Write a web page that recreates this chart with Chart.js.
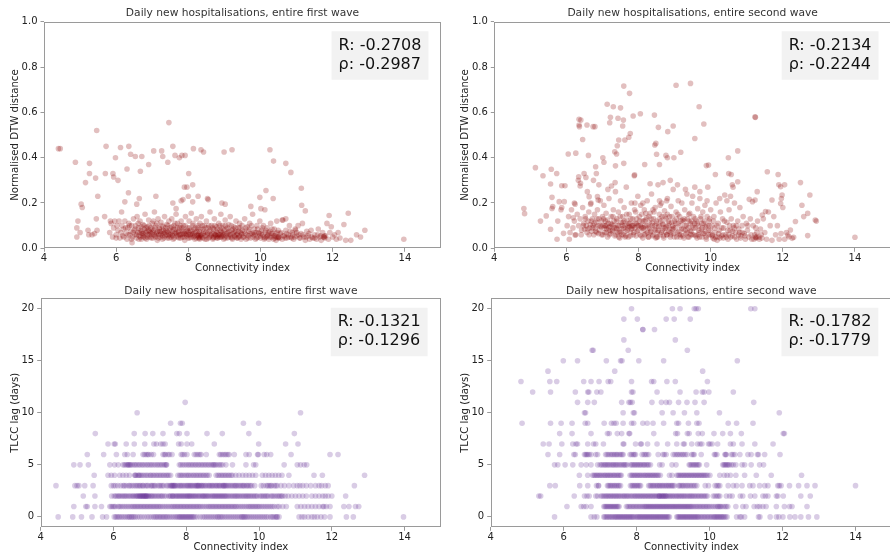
<!DOCTYPE html>
<html>
<head>
<meta charset="utf-8">
<script src="https://cdn.jsdelivr.net/npm/chart.js@4/dist/chart.umd.min.js"></script>
<style>
  html, body { margin: 0; padding: 0; background: #fff; overflow: hidden; width: 890px; height: 555px; }
  canvas { position: absolute; }
</style>
</head>
<body>
<canvas id="dtwFirst" width="445" height="277" style="left:0;top:0"></canvas>
<canvas id="dtwSecond" width="450" height="277" style="left:445px;top:0"></canvas>
<canvas id="lagFirst" width="445" height="278" style="left:0;top:277px"></canvas>
<canvas id="lagSecond" width="451" height="278" style="left:445px;top:277px"></canvas>
<script>
const FONT = "'DejaVu Sans', sans-serif";

const titleFirst = "Daily new hospitalisations, entire first wave";
const titleSecond = "Daily new hospitalisations, entire second wave";
const xLabel = "Connectivity index";
const xTicks = [4, 6, 8, 10, 12, 14];
const dtwTicks = [0, 0.2, 0.4, 0.6, 0.8, 1.0];
const lagTicks = [0, 5, 10, 15, 20];

const statsDtwFirst = ["R: -0.2708", "ρ: -0.2987"];
const statsDtwSecond = ["R: -0.2134", "ρ: -0.2244"];
const statsLagFirst = ["R: -0.1321", "ρ: -0.1296"];
const statsLagSecond = ["R: -0.1782", "ρ: -0.1779"];

// first wave, normalised DTW distance per province: [connectivity, distance]
const dtwFirstWave = [
  [4.40,0.44],[4.45,0.44],[4.87,0.38],[5.26,0.375],[5.26,0.33],[5.15,0.29],[5.43,0.31],[5.46,0.52],[5.49,0.23],
  [5.03,0.195],[5.06,0.18],[5.70,0.33],[5.72,0.45],[5.91,0.33],[5.93,0.315],[5.98,0.40],[6.05,0.30],[6.12,0.445],
  [6.35,0.45],[6.40,0.415],[6.30,0.35],[6.53,0.405],[6.71,0.405],[6.67,0.34],[6.90,0.37],[7.04,0.43],[7.26,0.43],
  [7.29,0.405],[7.46,0.555],[7.43,0.38],[7.57,0.45],[7.63,0.41],[7.75,0.40],[7.82,0.41],[7.91,0.41],[8.14,0.44],
  [8.35,0.435],[8.42,0.425],[8.99,0.425],[9.21,0.435],[8.01,0.33],[7.89,0.27],[7.96,0.27],[8.12,0.28],[8.0,0.23],
  [8.27,0.23],[6.34,0.245],[6.24,0.205],[6.15,0.16],[6.57,0.195],[6.64,0.22],[7.1,0.23],[7.8,0.21],[7.85,0.215],
  [8.12,0.205],[8.53,0.22],[8.55,0.215],[7.57,0.2],[7.66,0.175],[8.93,0.2],[9.02,0.195],[9.98,0.225],[10.26,0.435],
  [10.15,0.255],[10.36,0.385],[10.35,0.22],[10.7,0.375],[10.84,0.335],[11.13,0.265],[11.14,0.19],[11.24,0.165],
  [10.01,0.175],[10.12,0.17],[9.73,0.185],[11.9,0.145],[12.43,0.155],[12.89,0.08],[13.97,0.04],[12.77,0.05],
  [12.66,0.06],[12.5,0.035],[12.36,0.035],[12.31,0.105],
  [4.91,0.05],[4.91,0.09],[4.94,0.12],[5.0,0.07],[5.22,0.08],[5.24,0.06],[5.33,0.06],[5.4,0.065],[5.47,0.08],
  [5.45,0.13],[5.68,0.14],[5.84,0.12],
  [5.82,0.07],[5.86,0.11],[5.9,0.05],[5.93,0.09],[5.96,0.12],[6.0,0.06],[6.02,0.1],[6.05,0.08],[6.08,0.12],
  [6.1,0.045],[6.13,0.07],[6.16,0.1],[6.18,0.055],[6.2,0.085],[6.24,0.12],[6.27,0.065],[6.3,0.04],[6.32,0.09],
  [6.35,0.11],[6.38,0.06],[6.4,0.075],[6.43,0.1],[6.45,0.05],[6.48,0.13],[6.5,0.08],[6.44,0.025],[6.0,0.045],
  [6.52,0.06],[6.54,0.1],[6.56,0.045],[6.58,0.14],[6.6,0.07],[6.62,0.09],[6.64,0.055],[6.66,0.12],[6.68,0.08],
  [6.7,0.04],[6.72,0.065],[6.74,0.105],[6.76,0.05],[6.78,0.085],[6.8,0.15],[6.82,0.07],[6.84,0.04],[6.86,0.095],
  [6.88,0.06],[6.9,0.125],[6.92,0.075],[6.94,0.05],[6.96,0.09],[6.98,0.065],[7.0,0.11],[7.02,0.045],[7.04,0.08],
  [7.06,0.16],[7.08,0.055],[7.1,0.1],[7.12,0.07],[7.14,0.035],[7.16,0.13],[7.18,0.06],[7.2,0.085],[7.22,0.05],
  [7.24,0.115],[7.26,0.075],[7.28,0.04],[7.3,0.095],[7.32,0.065],[7.34,0.14],[7.36,0.055],[7.38,0.08],[7.4,0.105],
  [7.42,0.045],[7.44,0.07],[7.46,0.12],[7.48,0.06],[7.5,0.09],
  [6.65,0.07],[6.75,0.065],[6.85,0.075],[6.95,0.07],[7.05,0.06],[7.15,0.075],[7.25,0.065],[7.35,0.07],[7.45,0.055],
  [7.52,0.05],[7.54,0.13],[7.56,0.075],[7.58,0.04],[7.6,0.1],[7.62,0.065],[7.64,0.085],[7.66,0.15],[7.68,0.055],
  [7.7,0.11],[7.72,0.07],[7.74,0.045],[7.76,0.09],[7.78,0.06],[7.8,0.12],[7.82,0.08],[7.84,0.05],[7.86,0.1],
  [7.88,0.065],[7.9,0.035],[7.92,0.14],[7.94,0.075],[7.96,0.055],[7.98,0.09],[8.0,0.06],[8.02,0.12],[8.04,0.045],
  [8.06,0.08],[8.08,0.155],[8.1,0.065],[8.12,0.1],[8.14,0.05],[8.16,0.085],[8.18,0.04],[8.2,0.07],[8.22,0.13],
  [8.24,0.055],[8.26,0.09],[8.28,0.045],[8.3,0.075],[8.32,0.11],[8.34,0.06],[8.36,0.14],[8.38,0.05],[8.4,0.085],
  [8.42,0.065],[8.44,0.1],[8.46,0.04],[8.48,0.07],
  [8.28,0.055],[8.3,0.05],[8.32,0.045],[8.26,0.06],[8.34,0.055],[8.05,0.06],[8.15,0.065],[7.85,0.06],[7.95,0.065],
  [7.75,0.06],[7.65,0.07],[7.55,0.06],
  [8.5,0.12],[8.52,0.06],[8.54,0.09],[8.56,0.045],[8.58,0.075],[8.6,0.16],[8.62,0.055],[8.64,0.1],[8.66,0.065],
  [8.68,0.04],[8.7,0.085],[8.72,0.13],[8.74,0.06],[8.76,0.05],[8.78,0.095],[8.8,0.07],[8.82,0.045],[8.84,0.11],
  [8.86,0.06],[8.88,0.08],[8.9,0.15],[8.92,0.05],[8.94,0.07],[8.96,0.1],[8.98,0.04],[9.0,0.065],[9.02,0.125],
  [9.04,0.055],[9.06,0.085],[9.08,0.045],[9.1,0.07],[9.12,0.105],[9.14,0.06],[9.16,0.14],[9.18,0.05],[9.2,0.08],
  [9.22,0.04],[9.24,0.065],[9.26,0.095],[9.28,0.055],[9.3,0.075],[9.32,0.12],[9.34,0.045],[9.36,0.065],[9.38,0.09],
  [9.4,0.05],[9.42,0.11],[9.44,0.07],[9.46,0.04],[9.48,0.06],
  [8.8,0.055],[8.85,0.05],[8.9,0.06],[8.75,0.06],[8.95,0.055],[8.7,0.05],
  [9.5,0.08],[9.53,0.05],[9.56,0.13],[9.58,0.065],[9.6,0.04],[9.63,0.095],[9.66,0.055],[9.68,0.075],[9.7,0.11],
  [9.73,0.045],[9.76,0.065],[9.78,0.15],[9.8,0.06],[9.83,0.085],[9.86,0.04],[9.88,0.07],[9.9,0.1],[9.93,0.05],
  [9.96,0.065],[9.98,0.12],[10.0,0.045],[10.03,0.08],[10.06,0.06],[10.08,0.1],[10.1,0.04],[10.13,0.07],[10.16,0.05],
  [10.18,0.09],[10.2,0.06],[10.23,0.04],[10.26,0.075],[10.28,0.11],[10.3,0.05],[10.33,0.065],[10.36,0.04],
  [10.38,0.085],[10.4,0.055],[10.43,0.035],[10.46,0.07],[10.48,0.045],
  [10.45,0.12],[10.6,0.125],[10.7,0.13],[10.97,0.08],[10.5,0.05],
  [10.5,0.05],[10.55,0.065],[10.6,0.04],[10.62,0.125],[10.66,0.055],[10.7,0.08],[10.73,0.045],[10.77,0.06],
  [10.8,0.1],[10.84,0.05],[10.88,0.07],[10.92,0.04],[10.96,0.085],[11.0,0.055],[11.04,0.1],[11.08,0.045],
  [11.12,0.065],[11.16,0.11],[11.2,0.05],[11.24,0.035],[11.28,0.075],[11.32,0.055],[11.36,0.04],[11.4,0.08],
  [11.45,0.045],
  [11.5,0.06],[11.55,0.04],[11.6,0.085],[11.64,0.05],[11.68,0.035],[11.72,0.07],[11.76,0.05],[11.78,0.045],
  [11.8,0.055],[11.84,0.11],[11.88,0.04],[11.92,0.07],[11.96,0.095],[12.0,0.05],[12.05,0.06],[12.1,0.04],
  [12.15,0.07],[12.2,0.045],[11.75,0.05],[11.77,0.055],
  [6.21,0.05],[6.26,0.09],[6.33,0.06],[6.37,0.1],[6.42,0.04],[6.47,0.07],[6.53,0.085],[6.57,0.06],[6.61,0.11],
  [6.63,0.04],[6.67,0.05],[6.69,0.095],[6.71,0.075],[6.73,0.055],[6.77,0.1],[6.79,0.06],[6.81,0.045],[6.83,0.09],
  [6.87,0.05],[6.89,0.08],[6.91,0.1],[6.93,0.06],[6.97,0.045],[6.99,0.085],[7.01,0.07],[7.03,0.12],[7.07,0.09],
  [7.09,0.05],[7.11,0.065],[7.13,0.11],[7.17,0.045],[7.19,0.09],[7.21,0.075],[7.23,0.06],[7.27,0.1],[7.29,0.055],
  [7.31,0.08],[7.33,0.045],[7.37,0.09],[7.39,0.06],[7.41,0.075],[7.43,0.1],[7.47,0.045],[7.49,0.08],[7.51,0.065],
  [7.53,0.095],[7.57,0.055],[7.59,0.085],[7.61,0.045],[7.63,0.11],[7.67,0.065],[7.69,0.09],[7.71,0.05],[7.73,0.075],
  [7.77,0.1],[7.79,0.045],[7.81,0.065],[7.83,0.09],[7.87,0.075],[7.89,0.05],[7.91,0.1],[7.93,0.06],[7.97,0.08],
  [7.99,0.045],[8.01,0.07],[8.03,0.09],[8.07,0.05],[8.09,0.075],[8.11,0.06],[8.13,0.11],[8.17,0.055],[8.19,0.09],
  [8.21,0.045],[8.23,0.075],[8.27,0.1],[8.29,0.065],[8.31,0.04],[8.33,0.085],[8.37,0.06],[8.39,0.1],[8.41,0.045],
  [8.43,0.075],[8.47,0.055],[8.49,0.09],[8.51,0.04],[8.53,0.065],[8.57,0.1],[8.59,0.05],[8.61,0.08],[8.63,0.06],
  [8.67,0.09],[8.69,0.045],[8.71,0.065],[8.73,0.1],[8.77,0.075],[8.79,0.045],[8.81,0.085],[8.83,0.06],[8.87,0.1],
  [8.89,0.05],[8.91,0.075],[8.93,0.09],[8.97,0.06],[8.99,0.08],[9.01,0.045],[9.03,0.1],[9.07,0.065],[9.09,0.09],
  [9.11,0.05],[9.13,0.075],[9.17,0.06],[9.19,0.1],[9.21,0.045],[9.23,0.085],[9.27,0.07],[9.29,0.05],[9.31,0.09],
  [9.33,0.06],[9.37,0.045],[9.39,0.075],[9.41,0.055],[9.43,0.09],[9.47,0.065],[9.49,0.1],[9.51,0.05],[9.55,0.075],
  [9.59,0.09],[9.62,0.06],[9.65,0.045],[9.69,0.085],[9.72,0.065],[9.75,0.1],[9.79,0.05],[9.82,0.07],[9.85,0.06],
  [9.89,0.045],[9.92,0.085],[9.95,0.07],[9.99,0.055],[10.02,0.065],[10.05,0.09],[10.09,0.05],[10.12,0.045],
  [10.15,0.08],[10.19,0.055],[10.22,0.07],[10.25,0.05],[10.29,0.065],[10.32,0.085],[10.35,0.055],[10.39,0.045],
  [10.42,0.065],[10.45,0.05],[10.49,0.08],[10.53,0.045],[10.57,0.07],[10.63,0.055],[10.68,0.045],[10.72,0.065],
  [10.78,0.05],[10.82,0.075],[10.86,0.045],[10.9,0.06],[10.95,0.05],[11.0,0.07],[11.06,0.06],[11.1,0.045],
  [11.18,0.06],[11.26,0.05],[11.34,0.065],[11.42,0.05],[11.5,0.045],[11.58,0.06],[11.66,0.055]
];

// second wave, normalised DTW distance per province: [connectivity, distance]
const dtwSecondWave = [
  [4.82,0.176],[4.84,0.153],[5.14,0.356],[5.28,0.12],[5.35,0.32],[5.44,0.143],[5.56,0.084],[5.56,0.284],
  [5.58,0.349],[5.6,0.225],[5.62,0.184],[5.6,0.176],[5.73,0.33],[5.74,0.04],[5.76,0.12],[5.8,0.206],[5.85,0.17],
  [5.87,0.18],[5.87,0.276],[5.96,0.276],[5.94,0.206],[5.92,0.066],[6.05,0.416],[6.08,0.04],[6.19,0.135],
  [6.24,0.059],[6.26,0.42],[6.22,0.2],[6.24,0.195],[6.33,0.3],[6.34,0.316],[6.38,0.275],[6.39,0.287],[6.35,0.544],
  [6.4,0.566],[6.36,0.537],[6.35,0.57],[6.45,0.48],[6.57,0.544],[6.61,0.41],[6.74,0.537],[6.79,0.537],[6.49,0.33],
  [6.54,0.313],[6.58,0.25],[6.63,0.228],[6.67,0.195],[6.75,0.3],[6.81,0.36],[6.83,0.33],[6.86,0.228],[6.88,0.213],
  [6.9,0.28],[7.01,0.4],[7.04,0.38],[7.13,0.636],[7.22,0.578],[7.2,0.554],[7.3,0.625],[7.34,0.426],[7.36,0.364],
  [7.41,0.453],[7.39,0.416],[7.43,0.574],[7.45,0.478],[7.5,0.62],[7.56,0.54],[7.58,0.566],[7.59,0.716],[7.59,0.375],
  [7.62,0.478],[7.73,0.49],[7.75,0.684],[7.77,0.507],[7.85,0.584],[7.89,0.324],[8.05,0.594],[8.17,0.37],[8.44,0.588],
  [8.45,0.456],[8.48,0.463],[8.5,0.415],[8.55,0.534],[8.58,0.37],[8.76,0.41],[8.8,0.4],[8.81,0.515],[8.98,0.4],
  [8.96,0.54],[9.04,0.72],[9.17,0.424],[9.44,0.728],[9.56,0.485],[9.68,0.625],[9.81,0.549],[9.88,0.365],
  [9.94,0.368],[10.13,0.326],[10.49,0.4],[10.5,0.33],[10.57,0.326],[10.75,0.43],[11.23,0.58],[11.24,0.578],
  [10.6,0.28],[10.75,0.294],[11.57,0.338],[11.87,0.326],[11.89,0.28],[11.94,0.272],[12.05,0.28],[12.49,0.29],
  [12.75,0.235],[12.53,0.19],[12.69,0.154],[12.58,0.14],[12.69,0.056],[12.9,0.125],[12.93,0.12],[12.35,0.118],
  [14.0,0.049],[12.21,0.081],[12.26,0.044],[12.3,0.049],[12.14,0.059],[12.17,0.051],[11.96,0.22],[11.98,0.235],
  [11.94,0.198],[11.7,0.213],[11.43,0.147],[11.52,0.162],[11.29,0.25],[11.23,0.213],[11.16,0.206],[11.07,0.216],
  [6.02,0.1],[6.06,0.14],[6.1,0.07],[6.14,0.17],[6.18,0.09],[6.22,0.12],[6.26,0.06],[6.3,0.15],[6.34,0.1],
  [6.38,0.13],[6.42,0.08],[6.45,0.18],[6.48,0.11],[6.5,0.085],[6.52,0.14],[6.55,0.1],[6.57,0.07],[6.6,0.12],
  [6.62,0.16],[6.64,0.09],[6.66,0.105],[6.68,0.2],[6.7,0.075],[6.72,0.13],[6.74,0.1],[6.76,0.06],[6.78,0.15],
  [6.8,0.09],[6.82,0.115],[6.84,0.07],[6.86,0.17],[6.88,0.1],[6.9,0.13],[6.92,0.08],[6.94,0.21],[6.96,0.095],
  [6.98,0.06],[7.0,0.14],
  [7.02,0.1],[7.04,0.19],[7.06,0.07],[7.08,0.12],[7.1,0.155],[7.12,0.085],[7.14,0.05],[7.16,0.11],[7.18,0.22],
  [7.2,0.095],[7.22,0.065],[7.24,0.14],[7.26,0.105],[7.28,0.08],[7.3,0.17],[7.32,0.12],[7.34,0.055],[7.36,0.25],
  [7.38,0.09],[7.4,0.13],[7.42,0.07],[7.44,0.16],[7.46,0.1],[7.48,0.045],[7.5,0.21],[7.52,0.115],[7.54,0.085],
  [7.56,0.14],[7.58,0.06],[7.6,0.18],[7.62,0.1],[7.64,0.075],[7.66,0.27],[7.68,0.125],[7.7,0.09],[7.72,0.05],
  [7.74,0.15],[7.76,0.11],[7.78,0.07],[7.8,0.2],[7.82,0.1],[7.84,0.13],[7.86,0.06],[7.88,0.32],[7.9,0.09],
  [7.92,0.16],[7.94,0.11],[7.96,0.075],[7.98,0.23],[8.0,0.1],
  [7.1,0.1],[7.2,0.08],[7.3,0.1],[7.4,0.085],[7.5,0.07],[7.6,0.12],[7.7,0.1],[7.8,0.085],[7.9,0.11],[7.45,0.05],
  [7.55,0.1],[7.65,0.055],[7.75,0.095],[7.85,0.1],[7.95,0.13],[7.25,0.275],[7.15,0.26],[7.35,0.29],[7.05,0.09],
  [7.9,0.2],
  [8.02,0.14],[8.04,0.06],[8.06,0.19],[8.08,0.095],[8.1,0.12],[8.12,0.045],[8.14,0.08],[8.16,0.17],[8.18,0.1],
  [8.2,0.065],[8.22,0.135],[8.24,0.21],[8.26,0.09],[8.28,0.05],[8.3,0.115],[8.32,0.155],[8.34,0.075],[8.36,0.24],
  [8.38,0.1],[8.4,0.06],[8.42,0.13],[8.44,0.085],[8.46,0.18],[8.48,0.045],[8.5,0.11],[8.52,0.07],[8.54,0.28],
  [8.56,0.095],[8.58,0.15],[8.6,0.06],[8.62,0.12],[8.64,0.2],[8.66,0.08],[8.68,0.105],[8.7,0.045],[8.72,0.165],
  [8.74,0.09],[8.76,0.13],[8.78,0.06],[8.8,0.22],[8.82,0.1],[8.84,0.075],[8.86,0.14],[8.88,0.05],[8.9,0.185],
  [8.92,0.115],[8.94,0.085],[8.96,0.26],[8.98,0.065],[9.0,0.12],
  [8.05,0.1],[8.15,0.12],[8.25,0.07],[8.35,0.13],[8.45,0.1],[8.55,0.08],[8.65,0.14],[8.75,0.07],[8.85,0.11],
  [8.95,0.1],[8.1,0.09],[8.3,0.09],[8.5,0.05],[8.7,0.09],[8.9,0.07],[8.2,0.155],[8.4,0.17],[8.6,0.19],[8.8,0.15],
  [8.58,0.21],[8.78,0.21],[8.12,0.2],[8.32,0.285],[8.68,0.29],[8.88,0.3],
  [9.02,0.09],[9.04,0.16],[9.06,0.05],[9.08,0.28],[9.1,0.11],[9.12,0.075],[9.14,0.14],[9.16,0.1],[9.18,0.06],
  [9.2,0.2],[9.22,0.125],[9.24,0.085],[9.26,0.045],[9.28,0.17],[9.3,0.1],[9.32,0.065],[9.34,0.24],[9.36,0.13],
  [9.38,0.09],[9.4,0.05],[9.42,0.155],[9.44,0.11],[9.46,0.075],[9.48,0.2],[9.5,0.1],[9.52,0.14],[9.54,0.06],
  [9.56,0.27],[9.58,0.09],[9.6,0.12],[9.62,0.045],[9.64,0.175],[9.66,0.1],[9.68,0.07],[9.7,0.22],[9.72,0.13],
  [9.74,0.085],[9.76,0.05],[9.78,0.16],[9.8,0.11],[9.82,0.065],[9.84,0.19],[9.86,0.095],[9.88,0.04],[9.9,0.14],
  [9.92,0.27],[9.94,0.08],[9.96,0.12],[9.98,0.06],[10.0,0.17],
  [9.05,0.13],[9.15,0.05],[9.25,0.12],[9.35,0.07],[9.45,0.06],[9.55,0.11],[9.65,0.06],[9.75,0.11],[9.85,0.075],
  [9.95,0.1],[9.1,0.21],[9.3,0.26],[9.5,0.23],[9.7,0.25],[9.9,0.21],[9.4,0.12],
  [10.03,0.1],[10.06,0.045],[10.09,0.14],[10.12,0.07],[10.15,0.2],[10.18,0.035],[10.21,0.11],[10.24,0.08],
  [10.27,0.16],[10.3,0.055],[10.33,0.13],[10.36,0.09],[10.39,0.235],[10.42,0.06],[10.45,0.115],[10.48,0.04],
  [10.51,0.17],[10.54,0.08],[10.57,0.13],[10.6,0.055],[10.63,0.1],[10.66,0.2],[10.69,0.07],[10.72,0.04],
  [10.75,0.12],[10.78,0.085],[10.81,0.18],[10.84,0.055],[10.87,0.1],[10.9,0.14],[10.93,0.065],[10.96,0.04],
  [10.99,0.11],[10.1,0.04],[10.05,0.06],[10.2,0.05],[10.35,0.045],[10.5,0.06],[10.65,0.09],[10.8,0.07],
  [10.25,0.22],[10.45,0.21],[10.62,0.27],[10.55,0.23],
  [11.02,0.08],[11.06,0.05],[11.1,0.13],[11.14,0.04],[11.18,0.1],[11.22,0.06],[11.26,0.045],[11.3,0.12],
  [11.34,0.05],[11.38,0.085],[11.42,0.045],[11.46,0.13],[11.5,0.07],[11.55,0.04],[11.6,0.16],[11.65,0.1],
  [11.7,0.035],[11.75,0.14],[11.8,0.06],[11.85,0.1],[11.9,0.04],[11.95,0.065],[12.0,0.18],[12.05,0.04],
  [12.1,0.07],[11.25,0.09],[11.35,0.04],[11.24,0.05],[11.27,0.05],
  [6.41,0.06],[6.47,0.1],[6.53,0.13],[6.59,0.085],[6.63,0.06],[6.69,0.12],[6.73,0.09],[6.77,0.11],[6.81,0.075],
  [6.85,0.13],[6.89,0.065],[6.93,0.1],[6.97,0.12],[7.01,0.06],[7.03,0.13],[7.07,0.1],[7.11,0.07],[7.13,0.125],
  [7.17,0.09],[7.19,0.06],[7.23,0.11],[7.27,0.075],[7.29,0.14],[7.33,0.09],[7.37,0.06],[7.39,0.12],[7.43,0.1],
  [7.47,0.075],[7.49,0.14],[7.53,0.06],[7.57,0.115],[7.59,0.09],[7.63,0.05],[7.67,0.15],[7.69,0.08],[7.73,0.11],
  [7.77,0.055],[7.79,0.13],[7.83,0.09],[7.87,0.07],[7.89,0.17],[7.93,0.055],[7.97,0.1],[7.99,0.08],[8.03,0.12],
  [8.07,0.055],[8.09,0.15],[8.13,0.09],[8.17,0.06],[8.19,0.125],[8.23,0.1],[8.27,0.05],[8.29,0.14],[8.33,0.07],
  [8.37,0.11],[8.39,0.055],[8.43,0.16],[8.47,0.08],[8.49,0.12],[8.53,0.05],[8.57,0.1],[8.59,0.13],[8.63,0.07],
  [8.67,0.11],[8.69,0.055],[8.73,0.14],[8.77,0.095],[8.79,0.06],[8.83,0.12],[8.87,0.085],[8.89,0.06],[8.93,0.14],
  [8.97,0.09],[8.99,0.05],[9.03,0.11],[9.07,0.07],[9.09,0.15],[9.13,0.06],[9.17,0.12],[9.19,0.085],[9.23,0.055],
  [9.27,0.13],[9.29,0.08],[9.33,0.1],[9.37,0.05],[9.39,0.15],[9.43,0.08],[9.47,0.12],[9.49,0.06],[9.53,0.09],
  [9.57,0.13],[9.59,0.055],[9.63,0.11],[9.67,0.08],[9.69,0.05],[9.73,0.14],[9.77,0.09],[9.79,0.065],[9.83,0.12],
  [9.87,0.05],[9.89,0.1],[9.93,0.06],[9.97,0.13],[9.99,0.08],[10.04,0.055],[10.08,0.12],[10.11,0.09],[10.14,0.05],
  [10.17,0.1],[10.22,0.065],[10.26,0.045],[10.31,0.09],[10.34,0.06],[10.38,0.12],[10.43,0.05],[10.47,0.08],
  [10.52,0.1],[10.56,0.05],[10.61,0.075],[10.67,0.05],[10.71,0.1],[10.77,0.06],[10.83,0.045],[10.88,0.07],
  [10.95,0.055],[11.03,0.1],[11.12,0.06],[11.2,0.04],[11.28,0.07],[11.4,0.06]
];

// first wave, TLCC lag in days: [lag, connectivity values]
const lagFirstWave = [
  [11, [7.97]],
  [10, [6.65, 11.14]],
  [9, [7.57, 7.84, 7.89, 9.57, 9.99]],
  [8, [5.5, 6.57, 6.87, 7.08, 7.36, 7.74, 7.81, 8.02, 8.57, 8.99, 9.72, 10.97]],
  [7, [5.85, 6.02, 6.05, 6.35, 6.57, 6.86, 7.11, 7.18, 7.30, 7.36, 7.42, 7.79, 7.86, 8.02, 8.15, 8.77, 9.99, 10.73, 11.07]],
  [6, [5.28, 5.73, 6.08, 6.31, 6.38, 6.54, 6.81, 6.90, 6.97, 7.04, 7.10, 7.36, 7.43, 7.54, 7.61, 7.86, 7.95, 8.02,
       8.22, 8.32, 8.41, 8.55, 8.91, 9.0, 9.09, 9.18, 9.32, 9.64, 9.73, 9.96, 9.98, 10.14, 10.21, 10.32, 10.88, 11.95, 12.17,
       6.85, 6.94, 7.4, 7.5, 7.9, 8.27, 8.37, 8.95, 9.05, 9.14]],
  [5, [4.91, 5.08, 5.31, 5.9, 6.03, 6.13, 6.26, 6.34, 6.42, 6.51, 6.6, 6.69, 6.78, 6.87, 6.96, 7.05, 7.15, 7.24, 7.33,
       7.42, 7.81, 7.9, 8.0, 8.09, 8.18, 8.27, 8.36, 8.45, 8.54, 8.63, 8.72, 8.81, 8.91, 9.0, 9.09, 9.27, 9.64, 9.85,
       9.91, 10.69, 11.05, 11.14, 11.24, 11.31, 6.4, 6.45, 7.45, 8.75, 8.78, 7.46, 7.38,
       6.3, 6.38, 6.47, 6.56, 6.64, 6.73, 6.82, 6.92, 7.01, 7.1, 7.2, 7.29, 7.85, 7.95, 8.05, 8.14, 8.23, 8.32, 8.41,
       8.5, 8.59, 8.68, 8.86, 8.95]],
  [4, [5.47, 5.85, 5.94, 6.03, 6.17, 6.26, 6.35, 6.44, 6.58, 6.62, 6.67, 6.72, 6.76, 6.85, 6.94, 7.03, 7.12, 7.21,
       7.30, 7.39, 7.48, 7.52, 7.57, 7.77, 7.86, 7.95, 8.0, 8.04, 8.13, 8.18, 8.22, 8.31, 8.4, 8.49, 8.58, 8.63, 8.82,
       8.91, 9.0, 9.09, 9.18, 9.27, 9.36, 9.45, 9.55, 9.64, 9.73, 9.82, 9.91, 10.09, 10.18, 10.27, 10.36, 10.45, 10.54,
       10.63, 10.82, 11.51, 11.74, 12.9,
       6.6, 6.7, 6.8, 6.9, 7.0, 7.08, 7.17, 7.26, 7.35, 7.44, 7.82, 7.9, 8.08, 8.27, 8.36, 8.45, 8.54, 8.87, 8.96, 9.05,
       9.14, 9.23]],
  [3, [4.42, 4.94, 5.0, 5.05, 5.21, 5.44, 5.94, 6.0, 6.05, 6.12, 6.2, 6.27, 6.35, 6.42, 6.5, 6.6, 6.68, 6.75, 6.82,
       6.88, 6.95, 7.02, 7.08, 7.15, 7.22, 7.3, 7.38, 7.46, 7.55, 7.6, 7.64, 7.7, 7.78, 7.85, 7.92, 8.0, 8.06, 8.12,
       8.18, 8.25, 8.3, 8.36, 8.42, 8.48, 8.55, 8.6, 8.66, 8.72, 8.8, 8.86, 8.92, 9.0, 9.06, 9.12, 9.2, 9.28, 9.35,
       9.42, 9.5, 9.57, 9.65, 9.72, 9.8, 9.88, 10.06, 10.12, 10.2, 10.28, 10.35, 10.42, 10.5, 10.6, 10.7, 10.82,
       10.95, 11.05, 11.12, 11.2, 11.3, 11.42, 11.55, 11.65, 11.72, 11.82, 11.9, 12.62, 7.62, 7.66, 8.28, 8.32, 8.4,
       8.9, 9.02,
       6.3, 6.45, 6.55, 6.64, 6.72, 6.8, 6.92, 7.05, 7.12, 7.26, 7.34, 7.5, 7.58, 7.68, 7.74, 7.82, 7.88, 7.96, 8.03,
       8.09, 8.15, 8.22, 8.34, 8.45, 8.52, 8.63, 8.7, 8.76, 8.83, 8.96, 9.04, 9.09, 9.16, 9.24, 9.32, 9.38, 9.46, 9.54,
       9.6, 9.68, 9.76, 10.24, 10.32, 10.46]],
  [2, [5.17, 5.49, 5.95, 6.02, 6.1, 6.17, 6.25, 6.32, 6.4, 6.48, 6.55, 6.62, 6.67, 6.72, 6.78, 6.83, 6.88, 6.93, 6.98,
       7.05, 7.12, 7.2, 7.28, 7.35, 7.45, 7.52, 7.58, 7.63, 7.7, 7.76, 7.82, 7.88, 7.94, 8.0, 8.05, 8.1, 8.16, 8.22,
       8.28, 8.35, 8.42, 8.5, 8.56, 8.62, 8.7, 8.76, 8.82, 8.88, 8.94, 9.0, 9.06, 9.12, 9.2, 9.28, 9.35, 9.42, 9.5,
       9.58, 9.65, 9.72, 9.8, 9.88, 9.95, 10.02, 10.1, 10.18, 10.25, 10.32, 10.4, 10.5, 10.58, 10.65, 10.72, 10.8,
       10.9, 11.0, 11.1, 11.2, 11.3, 11.45, 11.55, 11.65, 11.75, 11.82, 11.9, 12.0, 12.38, 6.7, 6.75, 6.8, 6.85, 6.9,
       7.62, 8.45,
       6.06, 6.14, 6.21, 6.29, 6.36, 6.44, 6.52, 6.59, 6.65, 6.74, 6.81, 6.87, 6.91, 6.96, 7.02, 7.08, 7.16, 7.24, 7.32,
       7.4, 7.55, 7.66, 7.73, 7.79, 7.85, 7.91, 7.97, 8.03, 8.08, 8.13, 8.19, 8.25, 8.32, 8.38, 8.47, 8.53, 8.59, 8.66,
       8.73, 8.79, 8.85, 8.91, 8.97, 9.03, 9.09, 9.16, 9.24, 9.32, 9.39, 9.46, 9.54, 9.62, 9.69, 9.76, 9.84, 9.92,
       10.06, 10.14, 10.22, 10.36, 10.45, 10.54, 10.62]],
  [1, [4.91, 5.24, 5.28, 5.49, 5.67, 5.9, 5.98, 6.05, 6.12, 6.2, 6.3, 6.4, 6.5, 6.58, 6.66, 6.74, 6.82, 6.9, 6.98,
       7.06, 7.14, 7.22, 7.3, 7.4, 7.5, 7.6, 7.68, 7.76, 7.84, 7.92, 8.0, 8.08, 8.16, 8.24, 8.32, 8.4, 8.5, 8.6, 8.68,
       8.76, 8.84, 8.92, 9.0, 9.08, 9.16, 9.24, 9.32, 9.4, 9.5, 9.6, 9.7, 9.78, 9.86, 9.94, 10.02, 10.12, 10.22, 10.32,
       10.42, 10.55, 10.65, 10.75, 11.05, 11.15, 11.25, 11.35, 11.45, 11.55, 11.65, 11.75, 11.78, 11.85, 11.95, 12.33,
       12.47, 12.65, 12.74,
       5.94, 6.02, 6.16, 6.25, 6.35, 6.45, 6.54, 6.62, 6.7, 6.78, 6.86, 6.94, 7.02, 7.1, 7.18, 7.26, 7.35, 7.45, 7.55,
       7.64, 7.72, 7.8, 7.88, 7.96, 8.04, 8.12, 8.2, 8.28, 8.36, 8.45, 8.55, 8.64, 8.72, 8.8, 8.88, 8.96, 9.04, 9.12,
       9.2, 9.28, 9.36, 9.45, 9.55, 9.65, 9.74, 9.82, 9.9, 9.98, 10.07, 10.17, 10.27, 10.37, 10.5]],
  [0, [4.48, 4.88, 5.12, 5.41, 5.7, 5.81, 6.02, 6.1, 6.18, 6.28, 6.38, 6.45, 6.52, 6.6, 6.72, 6.85, 6.98, 7.1, 7.18,
       7.26, 7.34, 7.42, 7.5, 7.6, 7.7, 7.78, 7.84, 7.9, 7.96, 8.02, 8.08, 8.14, 8.2, 8.3, 8.45, 8.55, 8.65, 8.75,
       8.85, 8.92, 9.0, 9.1, 9.2, 9.3, 9.4, 9.5, 9.56, 9.62, 9.7, 9.8, 9.9, 10.0, 10.05, 10.15, 10.25, 10.32, 10.4,
       10.45, 10.5, 10.55, 11.1, 11.18, 11.25, 11.35, 11.45, 11.52, 11.6, 11.7, 11.8, 11.95, 12.4, 12.59, 13.97,
       6.06, 6.14, 6.23, 6.33, 6.42, 6.49, 6.56, 6.66, 6.78, 6.92, 7.04, 7.14, 7.22, 7.3, 7.38, 7.46, 7.55, 7.65, 7.74,
       7.81, 7.87, 7.93, 7.99, 8.05, 8.11, 8.17, 8.24, 8.38, 8.5, 8.6, 8.7, 8.8, 8.88, 8.96, 9.05, 9.15, 9.25, 9.35,
       9.45, 9.53, 9.59, 9.66, 9.75, 9.85, 9.95, 10.1, 10.2, 10.36, 10.48]]
];

// second wave, TLCC lag in days: [lag, connectivity values]
const lagSecondWave = [
  [20, [7.86, 8.98, 9.19, 9.58, 9.63, 9.69, 11.13, 11.24]],
  [19, [7.65, 8.02, 8.81, 9.03, 9.47]],
  [18, [8.17, 8.17, 8.49]],
  [17, [7.65, 9.06]],
  [16, [6.78, 6.81, 7.77, 9.39]],
  [15, [5.99, 6.38, 7.17, 7.56, 7.6, 8.06, 8.74, 10.76]],
  [14, [5.57, 7.4, 9.81]],
  [13, [4.83, 5.62, 5.81, 6.55, 6.75, 6.97, 7.22, 7.29, 7.86, 8.41, 8.47, 8.83, 9.06, 9.94]],
  [12, [5.15, 5.64, 6.32, 6.66, 6.69, 6.91, 7.02, 7.86, 7.9, 8.56, 9.19, 9.63, 9.8, 9.85, 9.98, 10.65]],
  [11, [6.38, 6.66, 6.84, 7.59, 7.79, 7.83, 7.88, 8.42, 8.68, 8.81, 8.9, 9.15, 9.38, 9.6, 9.85, 11.21]],
  [10, [6.57, 6.6, 7.63, 7.91, 7.94, 8.7, 9.0, 9.31, 9.65, 10.27, 11.91]],
  [9, [4.86, 5.64, 5.93, 6.23, 6.59, 6.66, 7.11, 7.31, 7.38, 7.44, 7.63, 7.86, 7.92, 8.17, 8.29, 8.45, 8.74, 9.1,
       9.15, 9.42, 9.65, 9.71, 10.51, 10.74, 11.19]],
  [8, [5.89, 6.23, 6.75, 7.2, 7.25, 7.47, 7.59, 7.79, 7.81, 8.47, 9.07, 9.12, 9.39, 9.44, 9.69, 9.8, 10.12, 10.36,
       10.57, 10.87, 12.02, 12.05]],
  [7, [5.44, 5.6, 5.95, 6.25, 6.34, 6.38, 6.66, 6.82, 6.88, 7.09, 7.63, 7.65, 7.97, 8.11, 8.13, 8.3, 8.56, 8.85, 9.1,
       9.28, 9.31, 9.51, 9.67, 9.74, 9.79, 9.97, 10.01, 10.07, 10.22, 10.57, 10.65, 10.89, 11.24, 11.74]],
  [6, [5.57, 5.89, 6.28, 6.32, 6.57, 6.63, 6.7, 6.75, 6.88, 6.93, 7.15, 7.23, 7.32, 7.4, 7.47, 7.56, 7.63, 7.82, 7.91,
       7.97, 8.15, 8.24, 8.33, 8.59, 8.76, 8.81, 9.0, 9.1, 9.19, 9.28, 9.38, 9.51, 9.58, 9.77, 10.13, 10.2, 10.42,
       10.46, 10.6, 10.69, 10.83, 11.05, 11.14, 11.31, 11.34, 11.51, 11.93,
       6.6, 6.66, 7.19, 7.28, 7.36, 7.44, 7.52, 7.6, 7.86, 7.94, 8.2, 8.28, 8.72, 9.05, 9.14, 9.24, 9.33, 9.55, 10.16,
       10.44, 10.64]],
  [5, [5.75, 5.84, 6.04, 6.25, 6.48, 6.62, 6.75, 6.93, 7.0, 7.08, 7.15, 7.22, 7.3, 7.37, 7.44, 7.52, 7.6, 7.67, 7.74,
       7.83, 7.9, 7.97, 8.04, 8.11, 8.19, 8.26, 8.33, 8.38, 8.63, 8.7, 8.97, 9.08, 9.44, 9.51, 9.58, 9.65, 9.72, 9.92,
       10.36, 10.42, 10.48, 10.54, 10.65, 10.72, 10.89, 10.96, 11.14, 11.37, 11.48,
       7.04, 7.12, 7.19, 7.26, 7.34, 7.41, 7.48, 7.56, 7.64, 7.7, 7.87, 7.94, 8.01, 8.08, 8.15, 8.22, 8.3, 9.47, 9.55,
       9.62, 9.69, 10.39, 10.45, 10.51, 10.6]],
  [4, [6.43, 6.66, 6.79, 6.86, 6.93, 7.0, 7.08, 7.15, 7.22, 7.29, 7.37, 7.44, 7.51, 7.58, 7.82, 7.89, 7.96, 8.03, 8.1,
       8.18, 8.25, 8.32, 8.39, 8.46, 8.53, 8.6, 8.65, 8.9, 8.97, 9.1, 9.17, 9.24, 9.31, 9.38, 9.45, 9.52, 9.59, 9.66,
       9.73, 9.8, 9.87, 9.95, 10.01, 10.28, 10.4, 10.48, 10.57, 10.72, 10.96, 11.28, 11.69, 12.52,
       6.83, 6.9, 6.97, 7.04, 7.12, 7.19, 7.26, 7.33, 7.4, 7.48, 7.55, 7.86, 7.93, 8.0, 8.07, 8.14, 8.22, 8.29, 8.36,
       8.43, 8.5, 8.57, 9.14, 9.21, 9.28, 9.35, 9.42, 9.49, 9.56, 9.63, 9.7, 9.77, 9.84, 9.91]],
  [3, [5.62, 5.77, 6.44, 6.66, 6.9, 6.95, 6.96, 7.2, 7.27, 7.34, 7.41, 7.49, 7.56, 7.83, 7.9, 7.97, 8.04, 8.11, 8.33,
       8.4, 8.47, 8.55, 8.62, 8.69, 8.76, 8.83, 8.9, 8.97, 9.04, 9.15, 9.22, 9.29, 9.38, 9.47, 9.56, 9.65, 9.88, 9.97,
       10.15, 10.24, 10.28, 10.51, 10.65, 10.74, 10.89, 11.1, 11.19, 11.37, 11.51, 11.6, 11.87, 11.91, 11.96, 12.19,
       12.44, 12.67, 12.89, 14.0,
       7.23, 7.3, 7.38, 7.45, 7.52, 7.87, 7.94, 8.01, 8.08, 8.37, 8.44, 8.51, 8.58, 8.65, 8.72, 8.8, 8.87, 8.94, 9.0,
       9.18, 9.26, 9.34, 9.42, 9.51, 9.6, 10.2]],
  [2, [5.32, 5.37, 6.29, 6.57, 6.64, 6.7, 6.88, 6.93, 7.02, 7.1, 7.17, 7.24, 7.31, 7.38, 7.45, 7.52, 7.6, 7.67, 7.74,
       7.82, 7.9, 7.97, 8.04, 8.11, 8.18, 8.25, 8.32, 8.39, 8.46, 8.53, 8.6, 8.65, 8.7, 8.76, 8.83, 8.9, 8.97, 9.04,
       9.11, 9.18, 9.25, 9.32, 9.4, 9.47, 9.54, 9.62, 9.7, 9.78, 9.86, 9.94, 10.1, 10.2, 10.28, 10.46, 10.55, 10.62,
       10.84, 10.91, 11.12, 11.24, 11.46, 11.53, 11.6, 11.83, 11.87, 12.02, 12.5, 12.76, 8.62, 8.68, 8.74, 8.8,
       7.06, 7.14, 7.21, 7.28, 7.35, 7.42, 7.49, 7.56, 7.64, 7.71, 7.78, 7.86, 7.94, 8.01, 8.08, 8.15, 8.22, 8.29, 8.36,
       8.43, 8.5, 8.57, 8.63, 8.72, 8.79, 8.86, 8.93, 9.0, 9.08, 9.15, 9.22, 9.29, 9.36, 9.44, 9.51, 9.58, 9.66, 9.74,
       9.82, 9.9, 10.15, 10.24]],
  [1, [6.09, 6.48, 6.55, 6.62, 6.75, 7.1, 7.16, 7.22, 7.28, 7.34, 7.4, 7.46, 7.52, 7.72, 7.8, 7.88, 7.96, 8.04, 8.12,
       8.2, 8.26, 8.32, 8.38, 8.44, 8.5, 8.56, 8.62, 8.68, 8.74, 8.8, 8.86, 8.92, 8.98, 9.04, 9.1, 9.16, 9.22, 9.28,
       9.34, 9.4, 9.46, 9.52, 9.6, 9.68, 9.76, 9.84, 9.92, 10.0, 10.1, 10.2, 10.26, 10.32, 10.42, 10.5, 10.72, 10.91,
       11.0, 11.22, 11.31, 11.37, 11.46, 11.55, 11.83, 12.05, 12.19, 12.26, 12.67,
       7.13, 7.19, 7.25, 7.31, 7.37, 7.43, 7.49, 7.76, 7.84, 7.92, 8.0, 8.08, 8.16, 8.23, 8.29, 8.35, 8.41, 8.47, 8.53,
       8.59, 8.65, 8.71, 8.77, 8.83, 8.89, 8.95, 9.01, 9.07, 9.13, 9.19, 9.25, 9.31, 9.37, 9.43, 9.49, 9.56, 9.64,
       9.72, 9.8, 9.88, 9.96, 10.05, 10.15, 10.23, 10.29, 10.37, 10.46]],
  [0, [5.75, 6.75, 6.84, 6.91, 7.1, 7.17, 7.24, 7.31, 7.38, 7.44, 7.5, 7.56, 7.62, 7.68, 7.74, 7.8, 7.86, 7.92, 8.0,
       8.06, 8.12, 8.18, 8.24, 8.3, 8.36, 8.42, 8.48, 8.54, 8.6, 8.66, 8.72, 8.78, 8.84, 8.9, 9.1, 9.16, 9.22, 9.28,
       9.34, 9.4, 9.46, 9.52, 9.58, 9.64, 9.7, 9.78, 9.86, 9.94, 10.02, 10.1, 10.16, 10.22, 10.28, 10.34, 10.4, 10.48,
       10.74, 10.83, 10.87, 10.96, 11.34, 11.38, 11.66, 11.83, 11.9, 12.01, 12.2, 12.34, 12.5, 12.71, 12.94,
       7.13, 7.2, 7.27, 7.34, 7.41, 7.47, 7.53, 7.59, 7.65, 7.71, 7.77, 7.83, 7.89, 7.96, 8.03, 8.09, 8.15, 8.21, 8.27,
       8.33, 8.39, 8.45, 8.51, 8.57, 8.63, 8.69, 8.75, 8.81, 8.87, 9.13, 9.19, 9.25, 9.31, 9.37, 9.43, 9.49, 9.55, 9.61,
       9.67, 9.74, 9.82, 9.9, 9.98, 10.06, 10.13, 10.19, 10.25, 10.31, 10.37, 10.44]]
];

const RED = "rgba(139, 0, 0, 0.25)";
const PURPLE = "rgba(102, 51, 153, 0.25)";
const SPINE = "#9a9a9a";

const pairsToPoints = pairs => pairs.map(([x, y]) => ({ x, y }));
const rowsToPoints = rows => rows.flatMap(([lag, xs]) => xs.map(x => ({ x, y: lag })));

// full box around the axes, like matplotlib spines
const frame = {
  id: "frame",
  afterDraw(chart) {
    const { ctx, chartArea: a } = chart;
    ctx.save();
    ctx.strokeStyle = SPINE;
    ctx.lineWidth = 1;
    const l = Math.round(a.left) + 0.5, t = Math.round(a.top) + 0.5;
    const r = Math.round(a.right) - 0.5, b = Math.round(a.bottom) - 0.5;
    ctx.strokeRect(l, t, r - l, b - t);
    ctx.restore();
  }
};

// correlation annotation in the top right corner
const statBox = {
  id: "statBox",
  afterDraw(chart, args, opts) {
    const { ctx, chartArea: a } = chart;
    ctx.save();
    ctx.font = "16px " + FONT;
    const w = Math.max(...opts.lines.map(t => ctx.measureText(t).width));
    const tx = a.left + 0.742 * (a.right - a.left);
    const top = a.top + 9.5;
    ctx.fillStyle = "#f2f2f2";
    ctx.fillRect(tx - 7, top, w + 14, 48.5);
    ctx.fillStyle = "#111";
    ctx.textBaseline = "middle";
    ctx.fillText(opts.lines[0], tx, top + 14.5);
    ctx.fillText(opts.lines[1], tx, top + 33.5);
    ctx.restore();
  }
};

function panel(id, points, color, cfg) {
  return new Chart(document.getElementById(id), {
    type: "scatter",
    data: {
      datasets: [{ data: points, backgroundColor: color, borderWidth: 0, pointRadius: 2.8 }]
    },
    options: {
      responsive: false,
      animation: false,
      devicePixelRatio: 1,
      layout: { padding: { left: 0, right: cfg.padRight, top: 0, bottom: 0 } },
      plugins: {
        legend: { display: false },
        tooltip: { enabled: false },
        title: {
          display: true,
          text: cfg.title,
          fullSize: false,
          color: "#333",
          font: { family: FONT, size: 10.7, weight: "normal", lineHeight: 1.1 },
          padding: { top: cfg.titleTop, bottom: cfg.titleBottom }
        },
        statBox: { lines: cfg.stats }
      },
      scales: {
        x: {
          type: "linear",
          min: 4,
          max: 15,
          afterBuildTicks: s => { s.ticks = xTicks.map(v => ({ value: v })); },
          afterFit: s => { s.height = cfg.xHeight; },
          ticks: { color: "#222", padding: 1, font: { family: FONT, size: 10 } },
          grid: { drawOnChartArea: false, drawTicks: true, tickLength: 3.5, color: SPINE },
          border: { display: false },
          title: {
            display: true,
            text: xLabel,
            color: "#222",
            font: { family: FONT, size: 10.2 },
            padding: { top: 0, bottom: cfg.xTitlePad }
          }
        },
        y: {
          type: "linear",
          min: cfg.yMin,
          max: cfg.yMax,
          afterBuildTicks: s => { s.ticks = cfg.yTicks.map(v => ({ value: v })); },
          afterFit: s => { s.width = cfg.yWidth; },
          ticks: {
            color: "#222",
            padding: 3,
            font: { family: FONT, size: 10 },
            callback: cfg.yFormat
          },
          grid: { drawOnChartArea: false, drawTicks: true, tickLength: 3.5, color: SPINE },
          border: { display: false },
          title: {
            display: true,
            text: cfg.yLabel,
            color: "#222",
            font: { family: FONT, size: 10.2 },
            padding: { top: cfg.yTitlePad, bottom: 0 }
          }
        }
      }
    },
    plugins: [frame, statBox]
  });
}

const dtwFormat = v => v.toFixed(1);
const lagFormat = v => String(v);

panel("dtwFirst", pairsToPoints(dtwFirstWave), RED, {
  title: titleFirst, stats: statsDtwFirst, yLabel: "Normalised DTW distance",
  yMin: 0, yMax: 1, yTicks: dtwTicks, yFormat: dtwFormat,
  yWidth: 44, padRight: 2.3, xHeight: 28.7, titleTop: 7.7, titleBottom: 2.3,
  xTitlePad: 2.5, yTitlePad: 9
});
panel("dtwSecond", pairsToPoints(dtwSecondWave), RED, {
  title: titleSecond, stats: statsDtwSecond, yLabel: "Normalised DTW distance",
  yMin: 0, yMax: 1, yTicks: dtwTicks, yFormat: dtwFormat,
  yWidth: 49.3, padRight: 0.7, xHeight: 28.7, titleTop: 7.7, titleBottom: 2.3,
  xTitlePad: 2.5, yTitlePad: 14
});
panel("lagFirst", rowsToPoints(lagFirstWave), PURPLE, {
  title: titleFirst, stats: statsLagFirst, yLabel: "TLCC lag (days)",
  yMin: -1, yMax: 21, yTicks: lagTicks, yFormat: lagFormat,
  yWidth: 40.7, padRight: 2.3, xHeight: 27.7, titleTop: 8.1, titleBottom: 1.4,
  xTitlePad: 1.3, yTitlePad: 9
});
panel("lagSecond", rowsToPoints(lagSecondWave), PURPLE, {
  title: titleSecond, stats: statsLagSecond, yLabel: "TLCC lag (days)",
  yMin: -1, yMax: 21, yTicks: lagTicks, yFormat: lagFormat,
  yWidth: 45.7, padRight: 1, xHeight: 27.7, titleTop: 8.1, titleBottom: 1.4,
  xTitlePad: 1.3, yTitlePad: 14
});
</script>
</body>
</html>
